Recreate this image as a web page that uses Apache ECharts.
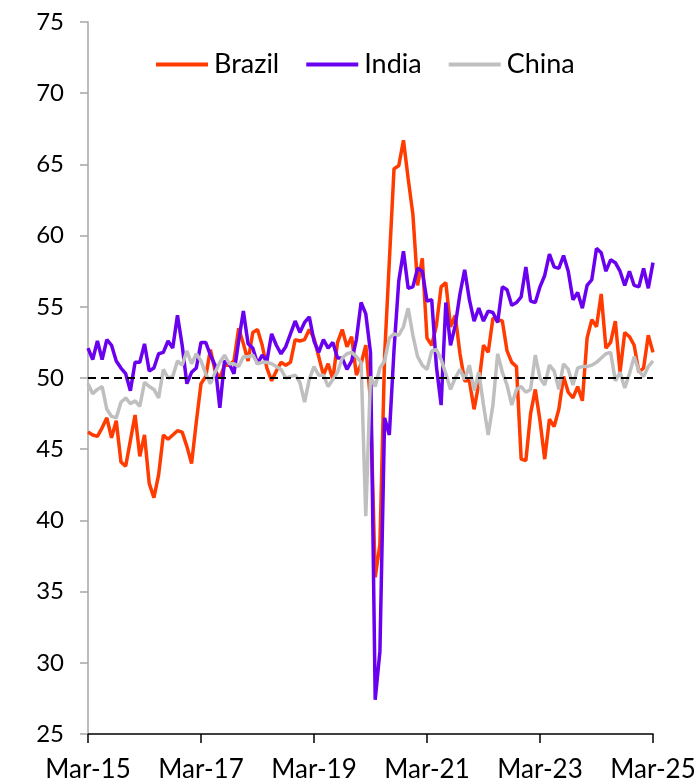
<!DOCTYPE html>
<html>
<head>
<meta charset="utf-8">
<script src="https://cdn.jsdelivr.net/npm/echarts@6/dist/echarts.min.js"></script>
<style>
  html, body { margin: 0; padding: 0; background: #fff; }
  #chart { width: 700px; height: 783px; }
</style>
</head>
<body>
<div id="chart"></div>
<script>
// Manufacturing PMI, monthly, Mar-2015 to Mar-2025
const monthNames = ['Jan','Feb','Mar','Apr','May','Jun','Jul','Aug','Sep','Oct','Nov','Dec'];
const tickLabels = ['Mar-15','Mar-17','Mar-19','Mar-21','Mar-23','Mar-25'];

const brazil = [
  46.2, 46.0, 45.9, 46.5, 47.2, 45.8, 47.0, 44.1, 43.8, 45.6,
  47.4, 44.5, 46.0, 42.6, 41.6, 43.2, 46.0, 45.7, 46.0, 46.3, 46.2, 45.2,
  44.0, 46.9, 49.6, 50.1, 52.0, 50.5, 50.0, 50.9, 50.9, 51.2, 53.5, 52.4,
  51.2, 53.2, 53.4, 52.3, 50.7, 49.8, 50.5, 51.1, 50.9, 51.1, 52.7, 52.6,
  52.7, 53.4, 52.8, 51.5, 50.2, 51.0, 49.9, 52.5, 53.4, 52.2, 52.9, 50.2,
  51.0, 52.3, 48.4, 36.0, 38.3, 51.6, 58.2, 64.7, 64.9, 66.7, 64.0, 61.5,
  56.5, 58.4, 52.8, 52.3, 53.7, 56.4, 56.7, 53.6, 54.4, 51.7, 49.8, 49.8,
  47.8, 49.6, 52.3, 51.8, 54.2, 54.1, 54.0, 51.9, 51.1, 50.8, 44.3, 44.2,
  47.5, 49.2, 47.0, 44.3, 47.1, 46.6, 47.8, 50.1, 49.0, 48.6, 49.4, 48.4,
  52.8, 54.1, 53.6, 55.9, 52.1, 52.5, 54.0, 50.4, 53.2, 52.9, 52.3, 50.4,
  50.7, 53.0, 51.8
];

const india = [
  52.1, 51.3, 52.6, 51.3, 52.7, 52.3, 51.2, 50.7, 50.3, 49.1,
  51.1, 51.1, 52.4, 50.5, 50.7, 51.7, 51.8, 52.6, 52.1, 54.4, 52.3, 49.6,
  50.4, 50.7, 52.5, 52.5, 51.6, 50.9, 47.9, 51.2, 51.0, 50.3, 52.6, 54.7,
  52.4, 52.1, 51.0, 51.6, 51.2, 53.1, 52.3, 51.7, 52.2, 53.1, 54.0, 53.2,
  53.9, 54.3, 52.6, 51.8, 52.7, 52.1, 52.5, 51.4, 51.4, 50.6, 51.2, 52.7,
  55.3, 54.5, 51.8, 27.4, 30.8, 47.2, 46.0, 52.0, 56.8, 58.9, 56.3, 56.4,
  57.7, 57.5, 55.4, 55.5, 50.8, 48.1, 55.3, 52.3, 53.7, 55.9, 57.6, 55.5,
  54.0, 54.9, 54.0, 54.7, 54.6, 53.9, 56.4, 56.2, 55.1, 55.3, 55.7, 57.8,
  55.4, 55.3, 56.4, 57.2, 58.7, 57.8, 57.7, 58.6, 57.5, 55.5, 56.0, 54.9,
  56.5, 56.9, 59.1, 58.8, 57.5, 58.3, 58.1, 57.5, 56.5, 57.5, 56.5, 56.4,
  57.7, 56.3, 58.1
];

const china = [
  49.6, 48.9, 49.2, 49.4, 47.8, 47.3, 47.2, 48.3, 48.6, 48.2,
  48.4, 48.0, 49.7, 49.4, 49.2, 48.6, 50.6, 50.0, 50.1, 51.2, 50.9, 51.9,
  51.0, 51.7, 51.2, 50.3, 49.6, 50.4, 51.1, 51.6, 51.0, 51.0, 50.8, 51.5,
  51.5, 51.6, 51.0, 51.1, 51.1, 51.0, 50.8, 50.6, 50.0, 50.1, 50.2, 49.7,
  48.3, 49.9, 50.8, 50.2, 50.2, 49.4, 49.9, 50.4, 51.4, 51.7, 51.8, 51.5,
  51.1, 40.3, 50.1, 49.4, 50.7, 51.2, 52.8, 53.1, 53.0, 53.6, 54.9, 53.0,
  51.5, 50.9, 50.6, 51.9, 52.0, 51.3, 50.3, 49.2, 50.0, 50.6, 49.9, 50.9,
  49.1, 50.4, 48.1, 46.0, 48.1, 51.7, 50.4, 49.5, 48.1, 49.2, 49.4, 49.0,
  49.2, 51.6, 50.0, 49.5, 50.9, 50.5, 49.2, 51.0, 50.6, 49.5, 50.7, 50.8,
  50.8, 50.9, 51.1, 51.4, 51.7, 51.8, 49.8, 50.4, 49.3, 50.3, 51.5, 50.5,
  50.1, 50.8, 51.2
];

const threshold = 50;

// Month categories "Mar-15" ... "Mar-25"
const categories = [];
for (let y = 2015, m = 2; categories.length < brazil.length; ) {
  categories.push(monthNames[m] + '-' + String(y).slice(2));
  m++;
  if (m === 12) { m = 0; y++; }
}

const FONT = 'Lato, "Noto Sans", sans-serif';

const chart = echarts.init(document.getElementById('chart'), null, { renderer: 'canvas' });

chart.setOption({
  animation: false,
  backgroundColor: '#ffffff',
  textStyle: { fontFamily: FONT },
  grid: { left: 88, right: 47, top: 22, bottom: 49, containLabel: false },
  legend: {
    data: ['Brazil', 'India', 'China'],
    left: 156,
    top: 51,
    padding: 0,
    icon: 'rect',
    itemWidth: 52,
    itemHeight: 4,
    itemGap: 27,
    textStyle: { fontSize: 27, color: '#000', fontFamily: FONT, padding: [0, 0, 0, 1] }
  },
  xAxis: {
    type: 'category',
    data: categories,
    boundaryGap: false,
    axisLine: { show: true, lineStyle: { color: '#000', width: 1.5 } },
    axisTick: { show: true, interval: 23, length: 9, lineStyle: { color: '#000', width: 1.5 } },
    axisLabel: {
      interval: 23,
      margin: 23,
      fontSize: 26,
      color: '#000',
      fontFamily: FONT,
      formatter: (v) => (tickLabels.indexOf(v) >= 0 ? v : '')
    },
    splitLine: { show: false }
  },
  yAxis: {
    type: 'value',
    min: 25,
    max: 75,
    interval: 5,
    axisLine: { show: true, lineStyle: { color: '#a6a6a6', width: 1.5 } },
    axisTick: { show: true, length: 8, lineStyle: { color: '#a6a6a6', width: 1.5 } },
    axisLabel: { margin: 24, fontSize: 24, color: '#000', fontFamily: FONT },
    splitLine: { show: false }
  },
  series: [
    {
      name: 'Brazil',
      type: 'line',
      data: brazil,
      symbol: 'none',
      lineStyle: { color: '#ff3b00', width: 3.5 },
      itemStyle: { color: '#ff3b00' }
    },
    {
      name: 'India',
      type: 'line',
      data: india,
      symbol: 'none',
      lineStyle: { color: '#6a00f0', width: 3.5 },
      itemStyle: { color: '#6a00f0' }
    },
    {
      name: 'China',
      type: 'line',
      data: china,
      symbol: 'none',
      lineStyle: { color: '#bfbfbf', width: 3.5 },
      itemStyle: { color: '#bfbfbf' },
      markLine: {
        silent: true,
        symbol: ['none', 'none'],
        label: { show: false },
        lineStyle: { color: '#000', type: [8, 5], width: 2 },
        data: [{ yAxis: threshold }]
      }
    }
  ]
});
</script>
</body>
</html>
